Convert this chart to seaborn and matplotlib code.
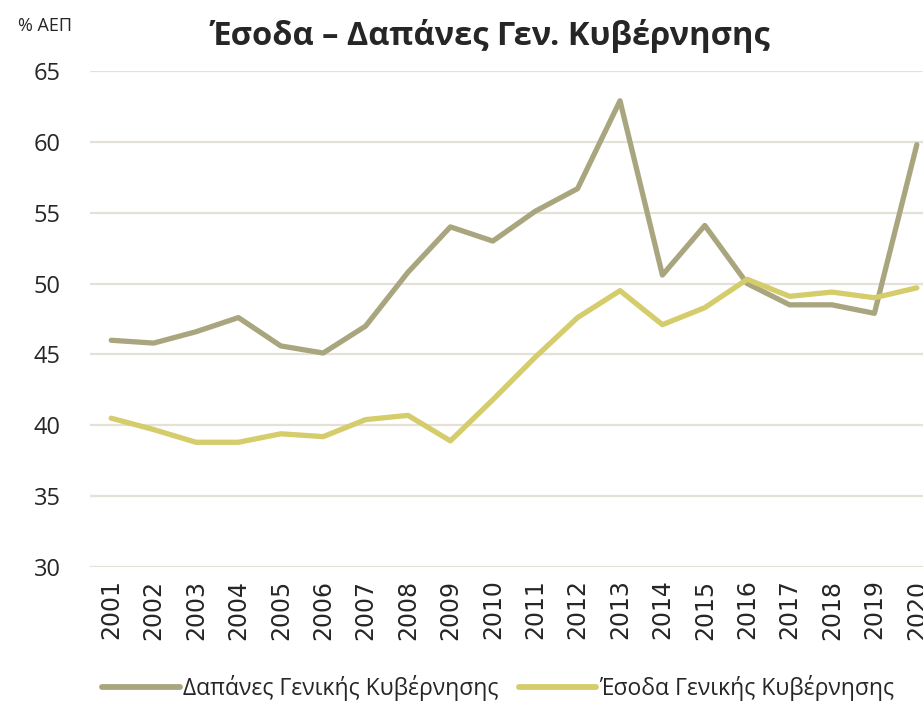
import matplotlib
matplotlib.use("Agg")
import matplotlib.pyplot as plt
import pandas as pd
import seaborn as sns

years = list(range(2001, 2021))
expenditure = [46.0, 45.8, 46.6, 47.6, 45.6, 45.1, 47.0, 50.8, 54.0, 53.0,
               55.1, 56.7, 62.9, 50.6, 54.1, 50.0, 48.5, 48.5, 47.9, 59.8]
revenue = [40.5, 39.7, 38.8, 38.8, 39.4, 39.2, 40.4, 40.7, 38.9, 41.8,
           44.8, 47.6, 49.5, 47.1, 48.3, 50.3, 49.1, 49.4, 49.0, 49.7]

exp_label = "Δαπάνες Γενικής Κυβέρνησης"
rev_label = "Έσοδα Γενικής Κυβέρνησης"

df = pd.DataFrame({"Έτος": years, exp_label: expenditure, rev_label: revenue})
long_df = df.melt(id_vars="Έτος", var_name="Σειρά", value_name="Τιμή")

sns.set_theme(style="white")
plt.rcParams["font.family"] = ["Open Sans", "DejaVu Sans"]

text_color = "#262626"
colors = {exp_label: "#A9A67F", rev_label: "#D5CC6B"}

fig = plt.figure(figsize=(9.23, 7.01), dpi=100)
ax = fig.add_axes([90 / 923, (701 - 567) / 701, 848 / 923, (567 - 71) / 701])

sns.lineplot(data=long_df, x="Έτος", y="Τιμή", hue="Σειρά", palette=colors,
             linewidth=3.8, ax=ax, legend=False)
for line in ax.get_lines():
    line.set_solid_capstyle("round")
    line.set_solid_joinstyle("round")

ax.set_xlim(2000.5, 2020.5)
ax.set_ylim(30, 65)
ax.set_yticks(range(30, 66, 5))
ax.set_xticks(years)
ax.set_xticklabels([str(y) for y in years], rotation=90, fontsize=17,
                   color=text_color, family=["DejaVu Sans"])
ax.tick_params(axis="y", labelsize=17, colors=text_color, pad=21, length=0)
ax.tick_params(axis="x", length=0, pad=9)
ax.grid(axis="y", color="#E4E1D6", linewidth=1.6)
ax.grid(axis="x", visible=False)
for spine in ax.spines.values():
    spine.set_visible(False)
ax.set_xlabel("")
ax.set_ylabel("")

fig.text(490 / 923, 1 - 36 / 701, "Έσοδα – Δαπάνες Γεν. Κυβέρνησης",
         ha="center", va="center", fontsize=23.5, fontweight="bold", color=text_color)
fig.text(18 / 923, 1 - 26 / 701, "% ΑΕΠ", ha="left", va="center",
         fontsize=13, color=text_color)

handles = [plt.Line2D([], [], color=colors[k], linewidth=4.2) for k in (exp_label, rev_label)]
fig.legend(handles, [exp_label, rev_label], loc="center", bbox_to_anchor=(498 / 923, 1 - 688 / 701),
           ncol=2, frameon=False, fontsize=16.5, handlelength=3.4, handletextpad=0.1,
           columnspacing=0.9, labelcolor=text_color)

fig.savefig("out.png", dpi=100)
